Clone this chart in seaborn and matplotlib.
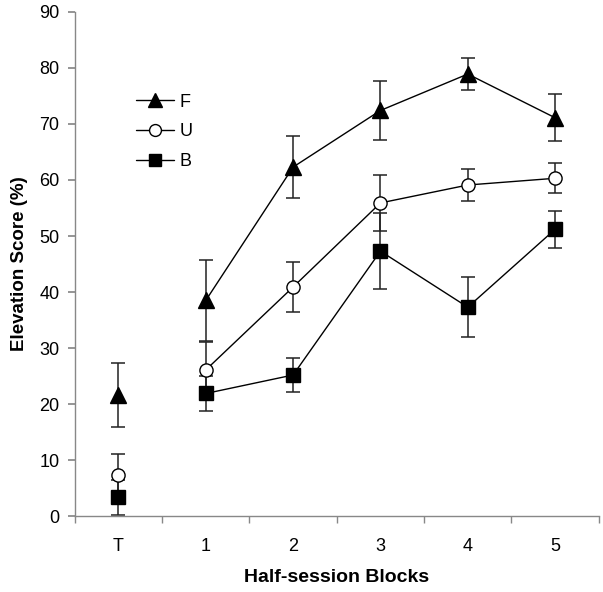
import numpy as np
import pandas as pd
import seaborn as sns
import matplotlib.pyplot as plt
from matplotlib.ticker import FixedLocator

# values (T = test block, then half-session blocks 1-5)
blocks = ['T', '1', '2', '3', '4', '5']
f_mean = [21.6, 38.5, 62.3, 72.4, 78.9, 71.1]
f_err = [5.7, 7.2, 5.6, 5.2, 2.9, 4.2]
u_mean = [7.3, 26.1, 40.9, 55.9, 59.1, 60.3]
u_err = [3.8, 5.0, 4.4, 5.0, 2.8, 2.7]
b_mean = [3.4, 21.9, 25.2, 47.3, 37.3, 51.2]
b_err = [3.1, 3.1, 3.0, 6.8, 5.3, 3.3]

sns.set_theme(style='white')
plt.rcParams['font.family'] = ['Liberation Sans', 'DejaVu Sans']
plt.rcParams['text.color'] = 'black'
plt.rcParams['axes.labelcolor'] = 'black'
plt.rcParams['xtick.color'] = 'black'
plt.rcParams['ytick.color'] = 'black'

groups = {'F': (f_mean, f_err), 'U': (u_mean, u_err), 'B': (b_mean, b_err)}
rows = []
for g, (m, e) in groups.items():
    for i, lab in enumerate(blocks):
        rows.append({'group': g, 'x': i, 'block': lab, 'score': m[i], 'err': e[i]})
df = pd.DataFrame(rows)

markers = {'F': '^', 'U': 'o', 'B': 's'}
faces = {'F': 'black', 'U': 'white', 'B': 'black'}
msize = {'F': 11, 'U': 9.5, 'B': 9.5}

fig = plt.figure(figsize=(6.03, 5.92), dpi=100)
ax = fig.add_axes([0.124, 0.128, 0.869, 0.852])

for g in ['F', 'U', 'B']:
    d = df[df['group'] == g]
    ax.errorbar(d['x'], d['score'], yerr=d['err'], fmt='none', ecolor='#222222',
                elinewidth=1.1, capsize=5, capthick=1.1, zorder=2)
    sub = d[d['x'] > 0]
    sns.lineplot(data=sub, x='x', y='score', ax=ax, color='black', linewidth=1,
                 marker=markers[g], markersize=msize[g],
                 markerfacecolor=faces[g], markeredgecolor='black',
                 markeredgewidth=1, label=g, zorder=3)
    t = d[d['x'] == 0]
    ax.plot(t['x'], t['score'], linestyle='none', marker=markers[g],
            markersize=msize[g], markerfacecolor=faces[g],
            markeredgecolor='black', markeredgewidth=1, zorder=3)

ax.set_xlim(-0.5, 5.5)
ax.set_ylim(0, 90)
ax.set_yticks(range(0, 91, 10))
ax.set_xticks(range(len(blocks)))
ax.set_xticklabels(blocks)
ax.xaxis.set_minor_locator(FixedLocator(np.arange(-0.5, 5.6, 1)))
ax.tick_params(axis='x', which='major', length=0, labelsize=13, pad=16)
ax.tick_params(axis='x', which='minor', length=5, color='#888888', direction='out', bottom=True)
ax.tick_params(axis='y', length=5, color='#888888', labelcolor='black',
               direction='out', left=True, labelsize=13, pad=6)

for s in ['top', 'right']:
    ax.spines[s].set_visible(False)
for s in ['left', 'bottom']:
    ax.spines[s].set_color('#888888')
    ax.spines[s].set_linewidth(1)

ax.set_xlabel('Half-session Blocks', fontsize=14, fontweight='bold', labelpad=10)
ax.set_ylabel('Elevation Score (%)', fontsize=13.5, fontweight='bold', labelpad=8)

leg = ax.legend(loc='upper left', bbox_to_anchor=(0.085, 0.87), frameon=False,
                fontsize=13, handlelength=2.15, labelspacing=0.7, handletextpad=0.3,
                markerscale=0.9)

fig.savefig('out.png', dpi=100)
